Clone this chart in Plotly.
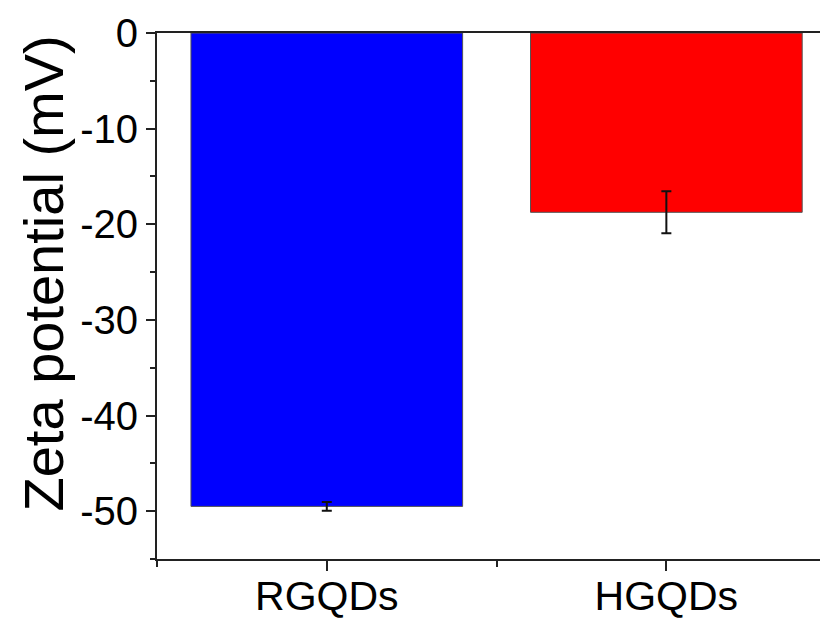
import plotly.graph_objects as go

categories = ["RGQDs", "HGQDs"]
zeta_mv = [-49.5, -18.75]
zeta_err = [0.45, 2.2]
bar_colors = ["#0000FF", "#FF0000"]
y_tick_vals = [0, -10, -20, -30, -40, -50]
y_tick_text = ["0", "-10", "-20", "-30", "-40", "-50"]
y_title = "Zeta potential (mV)"

xpos = list(range(len(categories)))

fig = go.Figure()
fig.add_trace(go.Bar(
    x=xpos, y=zeta_mv, width=0.8,
    marker=dict(color=bar_colors, line=dict(color="#555555", width=1)),
    error_y=dict(type="data", array=zeta_err, visible=True,
                 color="#111111", thickness=2, width=5),
))

# page body has an 8px default margin; the figure is sized to compensate
fig.update_layout(
    width=820, height=611,
    margin=dict(l=149, r=0, t=25, b=60),
    paper_bgcolor="white", plot_bgcolor="white",
    showlegend=False,
    font=dict(family="Liberation Sans, Arial, sans-serif", color="black"),
    xaxis=dict(
        range=[-0.5, 1.476], automargin=False,
        tickmode="array", tickvals=xpos, ticktext=categories,
        ticks="outside", ticklen=10, tickwidth=2, tickcolor="#222222",
        showline=True, linecolor="#222222", linewidth=2, mirror=True,
        showgrid=False, zeroline=False,
        tickfont=dict(size=41),
        ticklabelstandoff=-10,
        minor=dict(tickmode="array", tickvals=[-0.5, 0.5, 1.5],
                   ticks="outside", ticklen=6, tickwidth=2, tickcolor="#222222",
                   showgrid=False),
    ),
    yaxis=dict(
        range=[-55, 0], automargin=False,
        tickmode="array", tickvals=y_tick_vals, ticktext=y_tick_text,
        ticks="outside", ticklen=9, tickwidth=2, tickcolor="#222222",
        showline=True, linecolor="#222222", linewidth=2,
        showgrid=False, zeroline=False,
        tickfont=dict(size=40),
        minor=dict(dtick=5, tick0=0, ticks="outside", ticklen=5, tickwidth=2,
                   tickcolor="#222222", showgrid=False),
    ),
    annotations=[dict(
        text=y_title, textangle=-90, showarrow=False,
        xref="paper", yref="paper", x=-0.1699, y=0.5428,
        xanchor="center", yanchor="middle",
        font=dict(size=56),
    )],
)

fig.write_html("out.html")
